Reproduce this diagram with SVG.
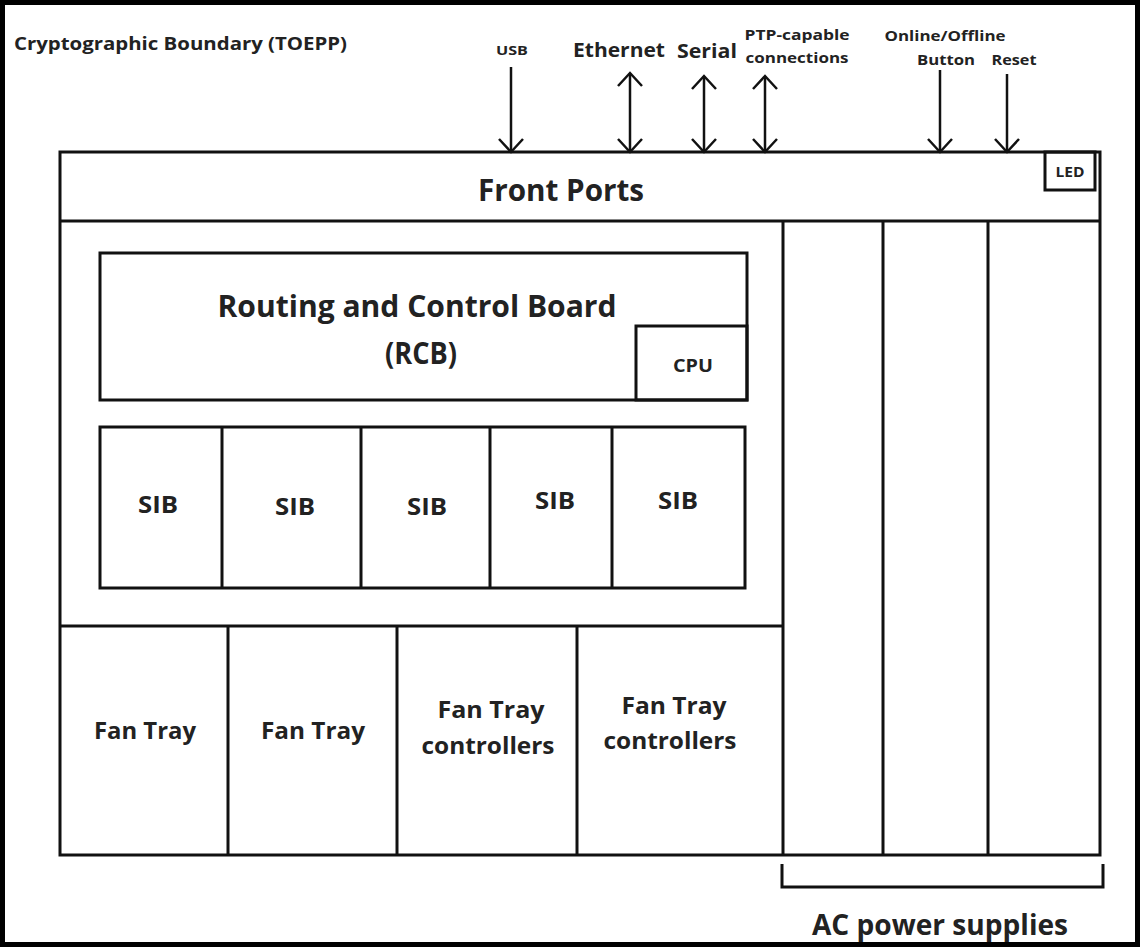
<svg xmlns="http://www.w3.org/2000/svg" width="1140" height="947" viewBox="0 0 1140 947">
<defs>
<style>
.t{font-family:"Open Sans","Noto Sans","DejaVu Sans",sans-serif;font-weight:700;fill:#222;text-anchor:middle}
.ln{stroke:#111;stroke-width:3;fill:none}
.ar{stroke:#111;stroke-width:2.5;fill:none}
</style>
<marker id="ah" viewBox="0 0 16 26" refX="14" refY="13" markerWidth="16" markerHeight="26" markerUnits="userSpaceOnUse" orient="auto-start-reverse">
<path d="M1,1 L14,13 L1,25" fill="none" stroke="#111" stroke-width="2.5"/>
</marker>
</defs>
<rect x="0" y="0" width="1140" height="947" fill="#fff"/>
<rect x="2.5" y="2.5" width="1135" height="942" fill="none" stroke="#000" stroke-width="5"/>
<text class="t" x="14" y="50" style="text-anchor:start;font-size:17px" textLength="333" lengthAdjust="spacingAndGlyphs">Cryptographic Boundary (TOEPP)</text>

<g id="frame">
<rect class="ln" x="60" y="152" width="1040" height="703"/>
<line class="ln" x1="60" y1="221" x2="1100" y2="221"/>
<line class="ln" x1="60" y1="626" x2="783" y2="626"/>
<line class="ln" x1="783" y1="221" x2="783" y2="855"/>
<line class="ln" x1="883" y1="221" x2="883" y2="855"/>
<line class="ln" x1="988" y1="221" x2="988" y2="855"/>
</g>
<g id="front-ports"><text class="t" x="561" y="201" style="font-size:30px" textLength="166" lengthAdjust="spacingAndGlyphs">Front Ports</text></g>
<g id="led"><rect class="ln" x="1045" y="152" width="50" height="38"/><text class="t" x="1070" y="177" style="font-size:14px" textLength="29" lengthAdjust="spacingAndGlyphs">LED</text></g>
<g id="rcb"><rect class="ln" x="100" y="253" width="647" height="147"/>
<text class="t" x="417" y="317" style="font-size:30px" textLength="399" lengthAdjust="spacingAndGlyphs">Routing and Control Board</text>
<text class="t" x="421" y="364" style="font-size:30px" textLength="72" lengthAdjust="spacingAndGlyphs">(RCB)</text></g>
<g id="cpu"><rect class="ln" x="636" y="326" width="111" height="74"/><text class="t" x="693" y="372" style="font-size:17px" textLength="40" lengthAdjust="spacingAndGlyphs">CPU</text></g>
<g id="sibs">
<rect class="ln" x="100" y="427" width="645" height="161"/>
<line class="ln" x1="222" y1="427" x2="222" y2="588"/>
<line class="ln" x1="361" y1="427" x2="361" y2="588"/>
<line class="ln" x1="490" y1="427" x2="490" y2="588"/>
<line class="ln" x1="612" y1="427" x2="612" y2="588"/>
<text class="t" x="158" y="513" style="font-size:24px" textLength="40" lengthAdjust="spacingAndGlyphs">SIB</text>
<text class="t" x="295" y="515" style="font-size:24px" textLength="40" lengthAdjust="spacingAndGlyphs">SIB</text>
<text class="t" x="427" y="515" style="font-size:24px" textLength="40" lengthAdjust="spacingAndGlyphs">SIB</text>
<text class="t" x="555" y="509" style="font-size:24px" textLength="40" lengthAdjust="spacingAndGlyphs">SIB</text>
<text class="t" x="678" y="509" style="font-size:24px" textLength="40" lengthAdjust="spacingAndGlyphs">SIB</text>
</g>
<g id="fans">
<line class="ln" x1="228" y1="626" x2="228" y2="855"/>
<line class="ln" x1="397" y1="626" x2="397" y2="855"/>
<line class="ln" x1="577" y1="626" x2="577" y2="855"/>
<text class="t" x="145" y="739" style="font-size:24px" textLength="102" lengthAdjust="spacingAndGlyphs">Fan Tray</text>
<text class="t" x="313" y="739" style="font-size:24px" textLength="104" lengthAdjust="spacingAndGlyphs">Fan Tray</text>
<text class="t" x="491" y="718" style="font-size:24px" textLength="107" lengthAdjust="spacingAndGlyphs">Fan Tray</text>
<text class="t" x="488" y="754" style="font-size:24px" textLength="133" lengthAdjust="spacingAndGlyphs">controllers</text>
<text class="t" x="674" y="714" style="font-size:24px" textLength="105" lengthAdjust="spacingAndGlyphs">Fan Tray</text>
<text class="t" x="670" y="749" style="font-size:24px" textLength="133" lengthAdjust="spacingAndGlyphs">controllers</text>
</g>
<g id="ac-power">
<path class="ln" d="M782,864 V887 H1103 V864"/>
<text class="t" x="940" y="935" style="font-size:28px" textLength="256" lengthAdjust="spacingAndGlyphs">AC power supplies</text>
</g>
<g id="labels">
<text class="t" x="512" y="55" style="font-size:13px" textLength="32" lengthAdjust="spacingAndGlyphs">USB</text>
<text class="t" x="619" y="57" style="font-size:20px" textLength="92" lengthAdjust="spacingAndGlyphs">Ethernet</text>
<text class="t" x="707" y="58" style="font-size:20px" textLength="60" lengthAdjust="spacingAndGlyphs">Serial</text>
<text class="t" x="797" y="40" style="font-size:15px" textLength="105" lengthAdjust="spacingAndGlyphs">PTP-capable</text>
<text class="t" x="797" y="63" style="font-size:15px" textLength="103" lengthAdjust="spacingAndGlyphs">connections</text>
<text class="t" x="945" y="41" style="font-size:15px" textLength="121" lengthAdjust="spacingAndGlyphs">Online/Offline</text>
<text class="t" x="946" y="65" style="font-size:15px" textLength="58" lengthAdjust="spacingAndGlyphs">Button</text>
<text class="t" x="1014" y="65" style="font-size:15px" textLength="45" lengthAdjust="spacingAndGlyphs">Reset</text>
</g>
<g id="connectors">
<line class="ar" x1="511" y1="67" x2="511" y2="152" marker-end="url(#ah)"/>
<line class="ar" x1="630" y1="73" x2="630" y2="152" marker-start="url(#ah)" marker-end="url(#ah)"/>
<line class="ar" x1="704" y1="76" x2="704" y2="152" marker-start="url(#ah)" marker-end="url(#ah)"/>
<line class="ar" x1="765" y1="76" x2="765" y2="152" marker-start="url(#ah)" marker-end="url(#ah)"/>
<line class="ar" x1="940" y1="70" x2="940" y2="152" marker-end="url(#ah)"/>
<line class="ar" x1="1007" y1="74" x2="1007" y2="152" marker-end="url(#ah)"/>
</g>
</svg>
